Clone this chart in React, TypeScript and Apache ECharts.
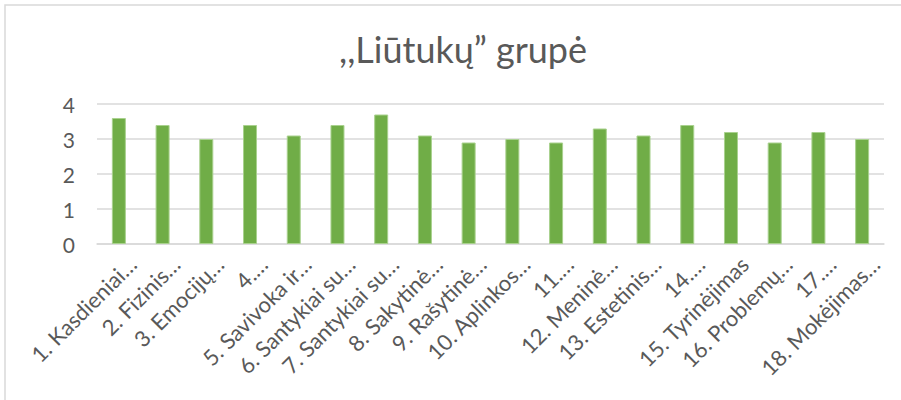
import React, { useEffect, useRef } from "react";
import * as echarts from "echarts";

const titleText = ",,Liūtukų” grupė";
const categories = [
  "1. Kasdieniai…",
  "2. Fizinis…",
  "3. Emocijų…",
  "4.…",
  "5. Savivoka ir…",
  "6. Santykiai su…",
  "7. Santykiai su…",
  "8. Sakytinė…",
  "9. Rašytinė…",
  "10. Aplinkos…",
  "11.…",
  "12. Meninė…",
  "13. Estetinis…",
  "14.…",
  "15. Tyrinėjimas",
  "16. Problemų…",
  "17.…",
  "18. Mokėjimas…",
];
const values = [3.6, 3.4, 3.0, 3.4, 3.1, 3.4, 3.7, 3.1, 2.9, 3.0, 2.9, 3.3, 3.1, 3.4, 3.2, 2.9, 3.2, 3.0];
const yMin = 0;
const yMax = 4;
const yInterval = 1;

const FONT = "Lato";
const TEXT = "#595959";
const GRID = "#d9d9d9";

export default function App() {
  const ref = useRef<HTMLDivElement>(null);
  useEffect(() => {
    if (!ref.current) return;
    const chart = echarts.init(ref.current, undefined, { renderer: "svg" });
    chart.setOption({
      animation: false,
      backgroundColor: "#ffffff",
      title: {
        text: titleText,
        left: 458,
        top: 26,
        textAlign: "center",
        textStyle: { fontFamily: FONT, fontSize: 36, fontWeight: "normal", color: TEXT },
      },
      graphic: [
        {
          type: "rect",
          shape: { x: 5, y: 5, width: 1000, height: 1000 },
          style: { fill: "none", stroke: GRID, lineWidth: 1.5 },
          silent: true,
        },
      ],
      grid: { left: 97, right: 17, top: 104, bottom: 156, containLabel: false },
      xAxis: {
        type: "category",
        data: categories,
        axisLine: { show: true, lineStyle: { color: GRID, width: 1.5 } },
        axisTick: { show: false },
        axisLabel: {
          interval: 0,
          rotate: 45,
          margin: 3,
          align: "right",
          verticalAlign: "top",
          lineHeight: 38,
          color: TEXT,
          fontFamily: FONT,
          fontSize: 22,
        },
      },
      yAxis: {
        type: "value",
        min: yMin,
        max: yMax,
        interval: yInterval,
        axisLine: { show: false },
        axisTick: { show: false },
        splitLine: { lineStyle: { color: GRID, width: 1.5 } },
        axisLabel: { color: TEXT, fontFamily: FONT, fontSize: 21, margin: 22 },
      },
      series: [
        {
          type: "bar",
          data: values,
          barWidth: 14,
          itemStyle: { color: "#70AD47", borderColor: "#A9D18E", borderWidth: 1 },
        },
      ],
    });
    return () => chart.dispose();
  }, []);
  return (
    <div
      ref={ref}
      style={{ position: "fixed", left: 0, top: 0, width: 901, height: 400 }}
    />
  );
}
